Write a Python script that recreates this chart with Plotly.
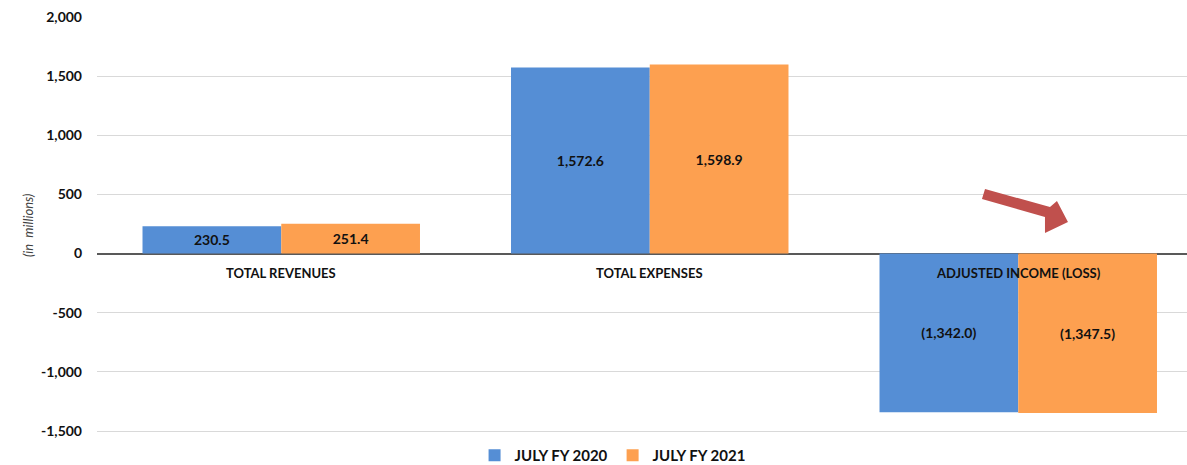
import plotly.graph_objects as go

categories = ["TOTAL REVENUES", "TOTAL EXPENSES", "ADJUSTED INCOME (LOSS)"]
fy2020 = [230.5, 1572.6, -1342.0]
fy2021 = [251.4, 1598.9, -1347.5]
series_names = ["JULY FY 2020", "JULY FY 2021"]
tick_vals = [-1500, -1000, -500, 0, 500, 1000, 1500, 2000]
tick_text = ["-1,500", "-1,000", "-500", "0", "500", "1,000", "1,500", "2,000"]

W, H = 1187, 465
L, R, T, B = 97, 0, 17, 32
PW, PH = W - L - R, H - T - B
YMAX = 2000
UPP = 3500 / 414.0  # value units per pixel
YMIN = -1500 - 2 * UPP


def fmt(v):
    s = f"{abs(v):,.1f}"
    return f"({s})" if v < 0 else s


def px2paper(px, py):
    return (px - L) / PW, (H - B - py) / PH


FONT = "Lato, 'Open Sans', sans-serif"

fig = go.Figure()
for name, vals, col in [(series_names[0], fy2020, "#558ED5"), (series_names[1], fy2021, "#FDA050")]:
    fig.add_trace(go.Bar(
        x=list(range(len(categories))), y=vals, name=name,
        marker=dict(color=col, line=dict(width=0)),
        text=[fmt(v) for v in vals], textposition="inside",
        insidetextanchor="middle",
        textfont=dict(family=FONT, size=14, color="#111111", weight="bold"),
        constraintext="none",
    ))

for i, c in enumerate(categories):
    fig.add_annotation(x=i, y=0, xref="x", yref="y", text=c, showarrow=False,
                       yshift=-19, font=dict(family=FONT, size=13, color="#111111", weight="bold"))

fig.add_annotation(xref="paper", yref="paper", x=(18 - L) / PW, y=(H - B - 226) / PH,
                   text="<i>(in  millions)</i>", textangle=-90, showarrow=False,
                   font=dict(family=FONT, size=13, color="#404040"))

# decorative block arrow
pts = [(985, 189), (1050, 207), (1057, 201), (1068, 222), (1045, 233), (1045, 217), (982, 199)]
pp = [px2paper(*p) for p in pts]
path = "M " + " L ".join(f"{x:.4f},{y:.4f}" for x, y in pp) + " Z"
fig.add_shape(type="path", xref="paper", yref="paper", path=path,
              fillcolor="#C0504D", line=dict(width=0))

fig.update_layout(
    width=W, height=H, margin=dict(l=L, r=R, t=T, b=B, autoexpand=False),
    plot_bgcolor="white", paper_bgcolor="white",
    barmode="group", bargap=0.247, bargroupgap=0,
    font=dict(family=FONT),
    legend=dict(orientation="h", x=0.473, xanchor="center", y=-6 / PH, yanchor="top",
                font=dict(family=FONT, size=15, color="#111111", weight="bold"),
                itemwidth=30, traceorder="normal"),
    xaxis=dict(range=[-0.5, -0.5 + PW / 368.5], showticklabels=False, showgrid=False,
               zeroline=False, showline=False, ticks=""),
    yaxis=dict(range=[YMIN, YMAX], tickvals=tick_vals, ticktext=tick_text,
               showgrid=True, gridcolor="#D9D9D9", gridwidth=1,
               zeroline=True, zerolinecolor="#595959", zerolinewidth=1.5,
               showline=False, ticklabelstandoff=14,
               tickfont=dict(family=FONT, size=14, color="#111111", weight="bold")),
)

fig.write_html("out.html")
